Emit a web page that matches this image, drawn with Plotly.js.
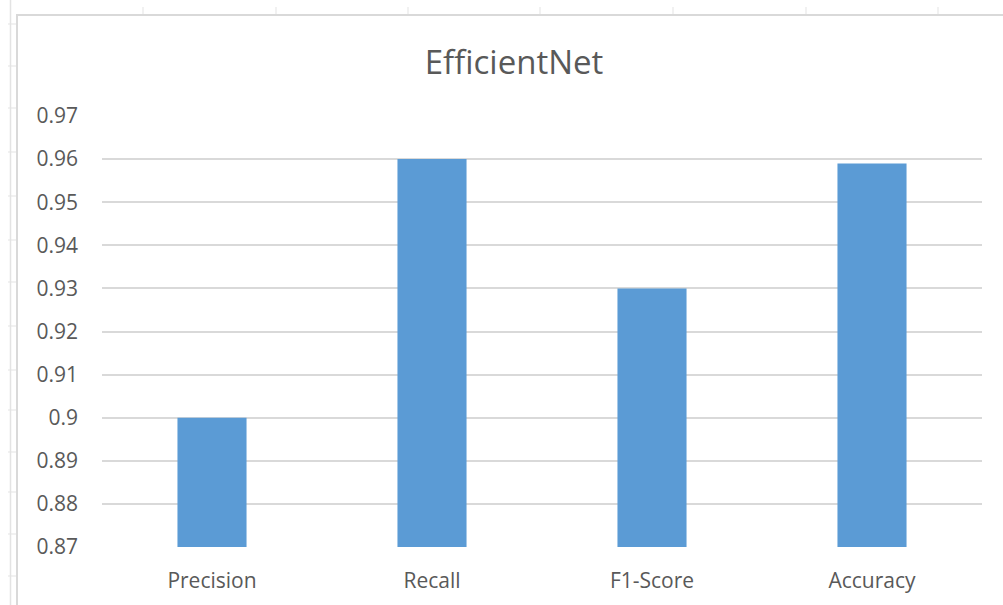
<!DOCTYPE html>
<html>
<head>
<meta charset="utf-8">
<script src="https://cdn.plot.ly/plotly-3.0.1.min.js"></script>
<style>
  html, body { margin: 0; padding: 0; background: #ffffff; }
  #chart { width: 1003px; height: 605px; }
</style>
</head>
<body>
<div id="chart"></div>
<script>
// Metric names and scores for the EfficientNet model
const metrics = ["Precision", "Recall", "F1-Score", "Accuracy"];
const scores = [0.90, 0.96, 0.93, 0.959];

// Value-axis ticks
const yTickVals = [0.87, 0.88, 0.89, 0.90, 0.91, 0.92, 0.93, 0.94, 0.95, 0.96, 0.97];
const yTickText = ["0.87", "0.88", "0.89", "0.9", "0.91", "0.92", "0.93", "0.94", "0.95", "0.96", "0.97"];

// Page geometry (pixels) of the plotting area
const W = 1003, H = 605;
const M = { l: 102, r: 21, t: 116, b: 58 };
const PW = W - M.l - M.r, PH = H - M.t - M.b;
const px = x => (x - M.l) / PW;          // page x -> paper x
const py = y => (H - M.b - y) / PH;      // page y -> paper y

// Worksheet frame around the chart object
const gridGrey = "#e3e3e3";
const frameGrey = "#d9d9d9";
const shapes = [];
// sheet row-header edge
shapes.push({ type: "line", xref: "paper", yref: "paper", x0: px(10.5), x1: px(10.5), y0: py(0), y1: py(H),
  line: { color: gridGrey, width: 1.5 }, layer: "below" });
// row separators
[24, 66, 108, 152, 196, 240, 282, 326, 370, 410, 452, 492, 534, 576].forEach(y => {
  shapes.push({ type: "line", xref: "paper", yref: "paper", x0: px(8), x1: px(17), y0: py(y), y1: py(y),
    line: { color: gridGrey, width: 1 }, layer: "below" });
});
// column separators
[143, 276, 408, 540, 673, 806, 938].forEach(x => {
  shapes.push({ type: "line", xref: "paper", yref: "paper", x0: px(x), x1: px(x), y0: py(7), y1: py(15),
    line: { color: gridGrey, width: 1 }, layer: "below" });
});
// chart object border
shapes.push({ type: "line", xref: "paper", yref: "paper", x0: px(17), x1: px(17), y0: py(15), y1: py(H),
  line: { color: frameGrey, width: 2 }, layer: "below" });
shapes.push({ type: "line", xref: "paper", yref: "paper", x0: px(16), x1: px(W), y0: py(15), y1: py(15),
  line: { color: frameGrey, width: 2 }, layer: "below" });

const font = "'Open Sans', 'Noto Sans', sans-serif";

const data = [{
  type: "bar",
  x: metrics,
  y: scores,
  marker: { color: "#5b9bd5", line: { width: 0 } },
  hoverinfo: "x+y"
}];

const layout = {
  width: W, height: H,
  margin: M,
  paper_bgcolor: "#ffffff",
  plot_bgcolor: "#ffffff",
  showlegend: false,
  bargap: 0.686,
  title: {
    text: "EfficientNet",
    font: { family: font, size: 33, color: "#595959" },
    x: 514 / W, xanchor: "center", xref: "container",
    y: 1 - 62 / H, yanchor: "middle", yref: "container"
  },
  xaxis: {
    type: "category",
    showgrid: false, zeroline: false, showline: false,
    ticks: "",
    tickfont: { family: font, size: 21, color: "#595959" },
    ticklabelstandoff: 19
  },
  yaxis: {
    range: [0.87, 0.97],
    tickvals: yTickVals, ticktext: yTickText,
    showgrid: true, gridcolor: "#d9d9d9", gridwidth: 2,
    zeroline: false, showline: false, ticks: "",
    tickfont: { family: font, size: 21, color: "#595959" },
    ticklabelstandoff: 23
  },
  shapes: shapes
};

Plotly.newPlot("chart", data, layout, { displayModeBar: false, staticPlot: true });
</script>
</body>
</html>
